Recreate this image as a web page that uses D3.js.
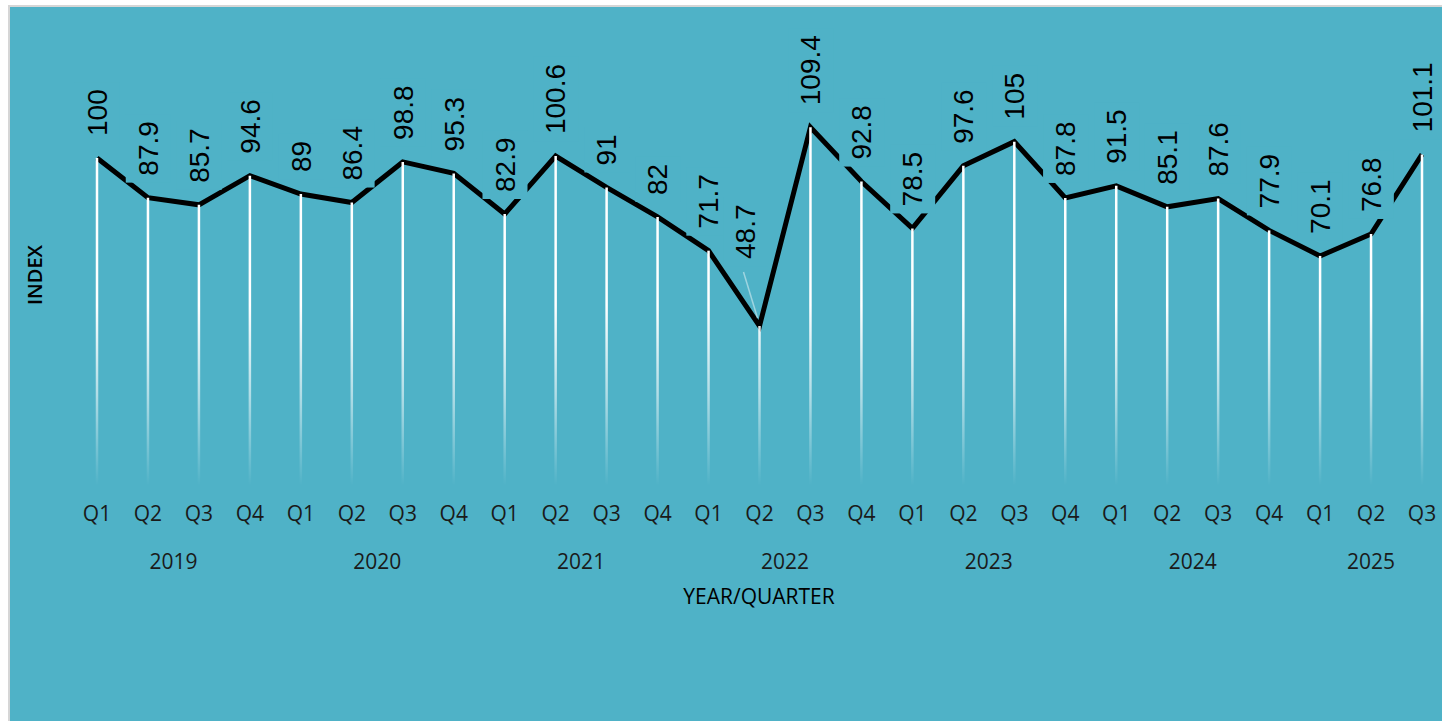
<!DOCTYPE html>
<html>
<head>
<meta charset="utf-8">
<script src="https://cdn.jsdelivr.net/npm/d3@7"></script>
<style>
  html, body { margin: 0; padding: 0; background: #ffffff; }
  svg { display: block; }
</style>
</head>
<body>
<svg id="chart" width="1442" height="721"></svg>
<script>
// ---- data ----
const years = ["2019", "2020", "2021", "2022", "2023", "2024", "2025"];
const quarters = ["Q1","Q2","Q3","Q4","Q1","Q2","Q3","Q4","Q1","Q2","Q3","Q4","Q1","Q2","Q3","Q4","Q1","Q2","Q3","Q4","Q1","Q2","Q3","Q4","Q1","Q2","Q3"];
const quarterYear = ["2019","2019","2019","2019","2020","2020","2020","2020","2021","2021","2021","2021","2022","2022","2022","2022","2023","2023","2023","2023","2024","2024","2024","2024","2025","2025","2025"];
const values = [100, 87.9, 85.7, 94.6, 89, 86.4, 98.8, 95.3, 82.9, 100.6, 91, 82, 71.7, 48.7, 109.4, 92.8, 78.5, 97.6, 105, 87.8, 91.5, 85.1, 87.6, 77.9, 70.1, 76.8, 101.1];
const labelTexts = ["100","87.9","85.7","94.6","89","86.4","98.8","95.3","82.9","100.6","91","82","71.7","48.7","109.4","92.8","78.5","97.6","105","87.8","91.5","85.1","87.6","77.9","70.1","76.8","101.1"];
const yAxisTitle = "INDEX";
const xAxisTitle = "YEAR/QUARTER";

// ---- setup ----
const W = 1442, H = 721;
const BG = "#4fb2c7";
const svg = d3.select("#chart");

const idx = d3.range(values.length);
const x = d3.scalePoint().domain(idx).range([97, 1422]);
const y = d3.scaleLinear().domain([0, 120]).range([485.5, 92.5]);

// chart area with border
svg.append("rect")
  .attr("x", 9).attr("y", 6).attr("width", W).attr("height", H)
  .attr("fill", BG)
  .attr("stroke", "#d6d6d6").attr("stroke-width", 2);

// gradient for drop lines
const defs = svg.append("defs");
const grad = defs.append("linearGradient")
  .attr("id", "dropGrad")
  .attr("gradientUnits", "userSpaceOnUse")
  .attr("x1", 0).attr("x2", 0)
  .attr("y1", y(110)).attr("y2", y(0));
grad.append("stop").attr("offset", "0").attr("stop-color", "#ffffff").attr("stop-opacity", 1);
grad.append("stop").attr("offset", "0.5").attr("stop-color", "#ffffff").attr("stop-opacity", 1);
grad.append("stop").attr("offset", "0.75").attr("stop-color", "#ffffff").attr("stop-opacity", 0.55);
grad.append("stop").attr("offset", "1").attr("stop-color", "#ffffff").attr("stop-opacity", 0);

// main line
const line = d3.line().x(i => x(i)).y(i => y(values[i]));
svg.append("path")
  .datum(idx)
  .attr("d", line)
  .attr("fill", "none")
  .attr("stroke", "#000000")
  .attr("stroke-width", 5)
  .attr("stroke-linejoin", "miter");

// drop lines
svg.append("g").selectAll("line")
  .data(idx)
  .join("line")
  .attr("x1", i => x(i)).attr("x2", i => x(i))
  .attr("y1", i => y(values[i])).attr("y2", y(0))
  .attr("stroke", "url(#dropGrad)")
  .attr("stroke-width", 2.5);

// data labels (with manual nudge for the label that was moved)
const labelNudge = { 13: [-14, -45] };
const labelGap = 22;
const labelLayer = svg.append("g");
const labels = labelLayer.selectAll("g")
  .data(idx)
  .join("g")
  .attr("transform", i => {
    const n = labelNudge[i] || [0, 0];
    return `translate(${x(i) + n[0]},${y(values[i]) - labelGap + n[1]}) rotate(-90)`;
  });
const texts = labels.append("text")
  .attr("x", 0).attr("y", 0).attr("dy", "0.35em")
  .attr("text-anchor", "start")
  .attr("font-family", "'Liberation Sans', Arial, sans-serif")
  .attr("font-size", 28)
  .attr("fill", "#000000")
  .text(i => labelTexts[i]);
const pad = 7;
texts.each(function() {
  const b = this.getBBox();
  d3.select(this.parentNode).insert("rect", "text")
    .attr("x", b.x - pad).attr("y", b.y - pad)
    .attr("width", b.width + 2 * pad).attr("height", b.height + 2 * pad)
    .attr("fill", BG);
});

// leader line for the nudged label
Object.keys(labelNudge).forEach(k => {
  const i = +k;
  const n = labelNudge[i];
  const px = x(i), py = y(values[i]);
  svg.append("line")
    .attr("x1", px + n[0] - 2).attr("y1", py - labelGap + n[1] + 13)
    .attr("x2", px - 2).attr("y2", py - 8)
    .attr("stroke", "#ffffff").attr("stroke-opacity", 0.45)
    .attr("stroke-width", 1.5);
});

// quarter tick labels
svg.append("g").selectAll("text")
  .data(idx)
  .join("text")
  .attr("x", i => x(i)).attr("y", 521)
  .attr("text-anchor", "middle")
  .attr("font-family", "'Open Sans', sans-serif")
  .attr("font-size", 21)
  .attr("fill", "#1a1a1a")
  .text(i => quarters[i]);

// year labels
svg.append("g").selectAll("text")
  .data(years)
  .join("text")
  .attr("x", yr => d3.mean(idx.filter(i => quarterYear[i] === yr), i => x(i)))
  .attr("y", 569)
  .attr("text-anchor", "middle")
  .attr("font-family", "'Open Sans', sans-serif")
  .attr("font-size", 21)
  .attr("fill", "#1a1a1a")
  .text(d => d);

// axis titles
svg.append("text")
  .attr("x", 759).attr("y", 604)
  .attr("text-anchor", "middle")
  .attr("font-family", "'Open Sans', sans-serif")
  .attr("font-size", 21)
  .attr("fill", "#000000")
  .text(xAxisTitle);

svg.append("text")
  .attr("transform", "translate(42,275) rotate(-90)")
  .attr("text-anchor", "middle")
  .attr("font-family", "'Open Sans', sans-serif")
  .attr("font-size", 20)
  .attr("font-weight", 600)
  .attr("fill", "#000000")
  .text(yAxisTitle);
</script>
</body>
</html>
